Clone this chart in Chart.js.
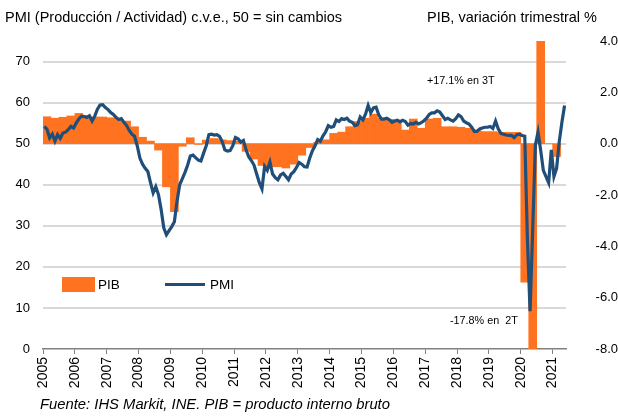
<!DOCTYPE html>
<html>
<head>
<meta charset="utf-8">
<script src="https://cdn.jsdelivr.net/npm/chart.js@4.4.1/dist/chart.umd.min.js"></script>
<style>
  body { margin: 0; background: #fff; }
  #wrap { position: relative; width: 618px; height: 416px; font-family: "Liberation Sans", Arial, sans-serif; color: #000; }
  #wrap canvas { position: absolute; left: 0; top: 0; }
  .txt { position: absolute; font-size: 13px; white-space: pre; line-height: 1; }
  .head { position: absolute; font-size: 14.5px; white-space: pre; line-height: 1; top: 10px; }
  .note { position: absolute; font-size: 10.8px; white-space: pre; line-height: 1; }
</style>
</head>
<body>
<div id="wrap">
  <canvas id="pmiChart" width="618" height="416"></canvas>
  <div class="head" style="left:5px;">PMI (Producción / Actividad) c.v.e., 50 = sin cambios</div>
  <div class="head" style="right:21px;">PIB, variación trimestral %</div>
  <div style="position:absolute; left:62px; top:277px; width:33px; height:15px; background:#ff7320;"></div>
  <div class="txt" style="left:98px; top:278px; font-size:13.5px;">PIB</div>
  <div style="position:absolute; left:165px; top:283px; width:40px; height:3px; background:#1f4e79;"></div>
  <div class="txt" style="left:210px; top:278px; font-size:13.5px;">PMI</div>
  <div class="note" style="left:427px; top:75px;">+17.1% en 3T</div>
  <div class="note" style="left:450px; top:315px;">-17.8% en  2T</div>
  <div class="txt" style="left:40px; top:397px; font-size:14.8px; font-style:italic;">Fuente: IHS Markit, INE. PIB = producto interno bruto</div>
</div>
<script>
// first month / quarter of the series
var startYear = 2005;
var yearLabels = [2005, 2006, 2007, 2008, 2009, 2010, 2011, 2012, 2013, 2014, 2015, 2016, 2017, 2018, 2019, 2020, 2021];
var pmiTicks = [0, 10, 20, 30, 40, 50, 60, 70];
var pibTicks = [-8, -6, -4, -2, 0, 2, 4];

// PMI, monthly, Jan 2005 - May 2021
var pmi = [
    54.2, 53.5, 51.4, 52.3, 50.6, 52.2, 51.3, 52.6, 52.8, 53.4, 54.2, 53.8,
    55.0, 56.0, 56.7, 56.6, 56.4, 56.8, 55.5, 56.7, 58.4, 59.4, 59.5, 58.8,
    58.3, 57.6, 57.1, 56.4, 55.9, 56.1, 55.2, 54.4, 53.2, 52.3, 51.8, 49.5,
    46.5, 45.0, 44.0, 43.2, 40.5, 38.0, 39.5, 37.6, 34.0, 29.5, 27.8, 28.8,
    29.8, 31.0, 36.0, 40.0, 41.5, 43.0, 44.8, 47.0, 47.2, 46.6, 46.0, 45.8,
    47.7, 49.5, 52.2, 52.3, 52.1, 52.2, 51.8, 50.5, 48.5, 48.2, 48.3, 49.5,
    51.5, 51.2, 50.4, 50.8, 48.5, 46.8, 45.9, 44.8, 42.6, 40.5, 39.0, 44.5,
    43.5, 45.5, 42.6, 41.7, 41.2, 42.4, 42.8, 42.0, 41.2, 42.6, 43.2, 44.2,
    45.4, 45.0, 44.4, 44.3, 46.5, 48.3, 49.5, 51.0, 50.6, 51.9, 52.9, 54.4,
    54.0, 54.2, 55.8, 55.4, 56.1, 55.9, 56.2, 55.5, 55.2, 54.4, 54.6, 56.5,
    55.8, 57.2, 59.3, 57.6, 58.7, 58.9, 57.0, 56.0, 56.0, 56.2, 55.8, 55.2,
    55.5, 55.7, 55.3, 55.7, 55.4, 54.5, 54.9, 54.8, 55.2, 54.8, 55.1, 55.6,
    56.2, 57.1, 57.5, 57.5, 58.0, 57.7, 56.8, 55.9, 56.2, 55.8, 55.5, 56.1,
    57.0, 56.6, 55.5, 55.1, 54.8, 54.0, 53.0, 53.0, 53.6, 53.8, 54.0, 54.0,
    54.2, 53.7, 55.5, 53.6, 52.5, 52.3, 52.1, 52.0, 52.0, 51.5, 52.2, 52.3,
    52.0, 51.8, 26.7, 9.2, 29.2, 49.7, 52.8, 48.4, 43.5, 42.0, 40.5, 48.5,
    42.0, 44.0, 50.5, 55.2, 59.3
];

// PIB, quarter on quarter %, 2005 T1 - 2021 T1
var pib = [
    1.05, 0.99, 1.03, 1.08,
    1.18, 1.09, 1.04, 1.04,
    1.01, 0.96, 0.88, 0.66,
    0.25, 0.10, -0.25, -1.68,
    -2.65, -0.10, 0.23, -0.03,
    0.14, 0.20, 0.15, 0.12,
    0.10, -0.30, -0.60, -0.85,
    -0.90, -0.90, -0.95, -0.80,
    -0.45, -0.15, 0.05, 0.15,
    0.40, 0.45, 0.66, 0.86,
    0.99, 1.15, 1.00, 0.95,
    0.92, 0.53, 0.96, 0.60,
    0.96, 0.99, 0.66, 0.66,
    0.64, 0.60, 0.53, 0.47,
    0.47, 0.44, 0.44, 0.44,
    -5.4, -17.8, 17.1, 0.0,
    -0.5
];

var tickFont = { family: "'Liberation Sans', Arial, sans-serif", size: 13 };

var ctx = document.getElementById('pmiChart');
new Chart(ctx, {
    data: {
        datasets: [{
            type: 'line',
            label: 'PMI',
            data: pmi.map(function (v, i) { return { x: startYear + (i + 0.5) / 12, y: v }; }),
            yAxisID: 'y',
            borderColor: '#1f4e79',
            borderWidth: 3.2,
            pointRadius: 0,
            tension: 0,
            order: 0
        }, {
            type: 'bar',
            label: 'PIB',
            data: pib.map(function (v, i) { return { x: startYear + (i + 0.5) / 4, y: v }; }),
            yAxisID: 'y1',
            backgroundColor: '#ff7320',
            borderWidth: 0,
            barPercentage: 1,
            categoryPercentage: 1,
            order: 1
        }]
    },
    options: {
        responsive: false,
        animation: false,
        devicePixelRatio: 1,
        layout: { padding: { top: 41, left: 0, right: 0, bottom: 0 } },
        plugins: {
            legend: { display: false },
            tooltip: { enabled: false }
        },
        scales: {
            x: {
                type: 'linear',
                offset: false,
                min: 2005,
                max: 2021.42,
                afterBuildTicks: function (scale) {
                    scale.ticks = yearLabels.map(function (v) { return { value: v }; });
                },
                afterFit: function (scale) {
                    scale.height = 67;
                    scale.paddingLeft = 0;
                    scale.paddingRight = 0;
                },
                ticks: {
                    autoSkip: false,
                    minRotation: 90,
                    maxRotation: 90,
                    padding: 3,
                    color: '#000',
                    font: { family: tickFont.family, size: 14 },
                    callback: function (v) { return String(v); }
                },
                grid: { offset: false, drawOnChartArea: false, drawTicks: true, tickLength: 5, color: '#808080' },
                border: { color: '#808080', width: 1.5 }
            },
            y: {
                position: 'left',
                min: 0,
                max: 75,
                afterBuildTicks: function (scale) {
                    scale.ticks = pmiTicks.map(function (v) { return { value: v }; });
                },
                afterFit: function (scale) { scale.width = 43; },
                ticks: { padding: 13, color: '#000', font: tickFont },
                grid: {
                    drawTicks: false,
                    color: '#d9d9d9',
                    lineWidth: function (c) { return c.tick && c.tick.value === 0 ? 0 : 2; }
                },
                border: { display: false }
            },
            y1: {
                position: 'right',
                min: -8,
                max: 4,
                afterBuildTicks: function (scale) {
                    scale.ticks = pibTicks.map(function (v) { return { value: v }; });
                },
                afterFit: function (scale) { scale.width = 52; },
                ticks: {
                    crossAlign: 'far',
                    padding: 9,
                    color: '#000',
                    font: tickFont,
                    callback: function (v) { return v.toFixed(1); }
                },
                grid: { display: false, drawTicks: false },
                border: { display: false }
            }
        }
    }
});
</script>
</body>
</html>
